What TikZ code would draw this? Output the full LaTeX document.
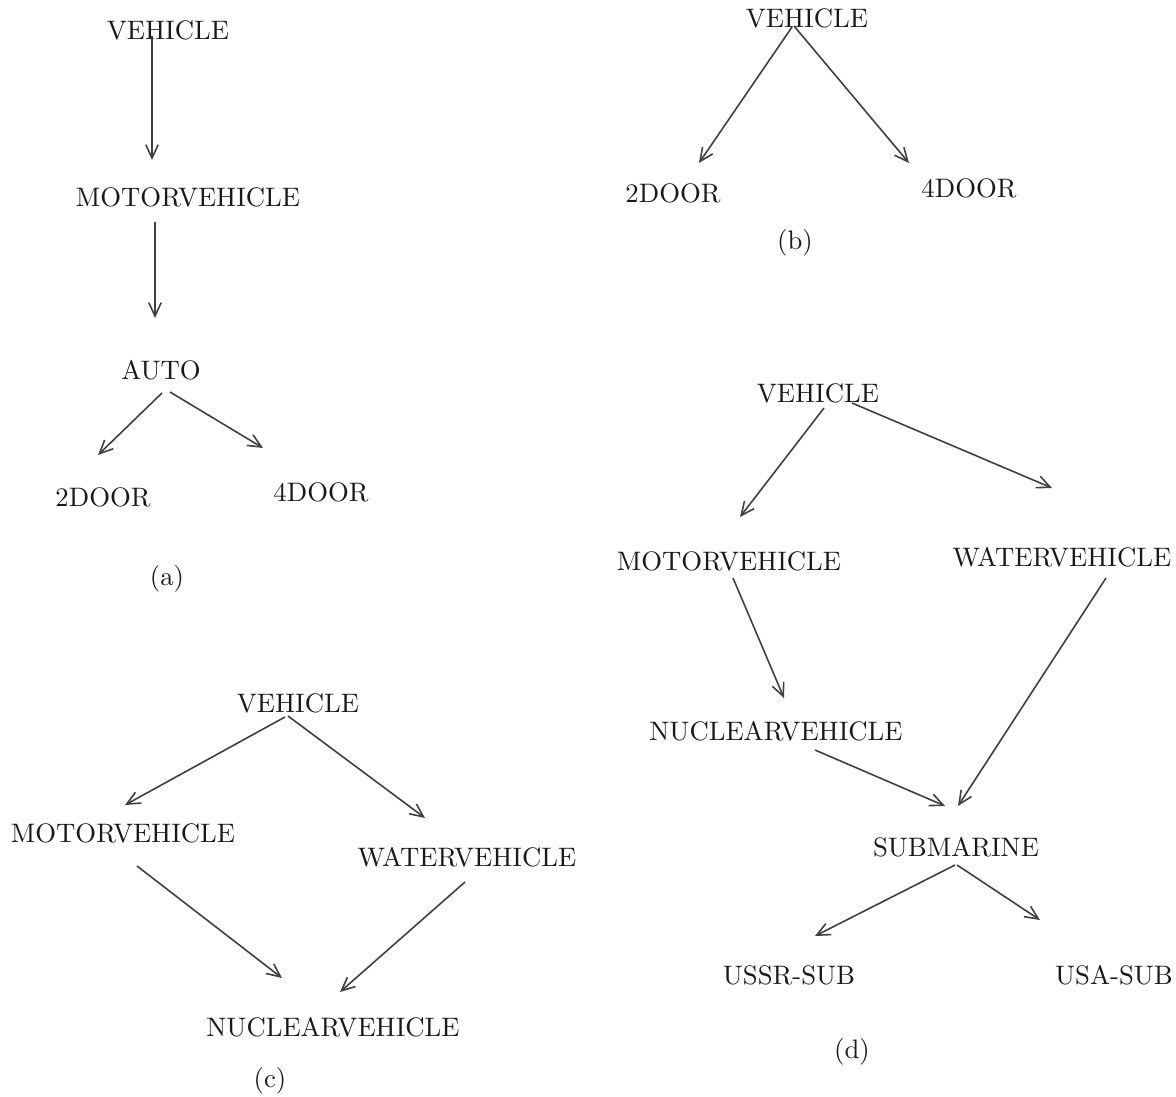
\documentclass[tikz,border=0pt]{standalone}
\usetikzlibrary{arrows.meta}

\tikzset{
	word/.style={inner sep=0pt, text=black!90},
	isa/.style={every edge/.style={draw=black!75, line width=0.6pt, -{Straight Barb[length=5pt,width=4.6pt]}}}
}

\begin{document}
\begin{tikzpicture}[x=0.01316cm, y=-0.01316cm]
	\useasboundingbox (0,0) rectangle (1176,1097);

	% (a)
	\node[word] (a0) at (168,30)  {VEHICLE};
	\node[word] (a1) at (188,197) {MOTORVEHICLE};
	\node[word] (a2) at (161,370) {AUTO};
	\node[word] (a3) at (103,497) {2DOOR};
	\node[word] (a4) at (321,492) {4DOOR};
	\node[word] (ca) at (167,579) {(a)};

	\path[isa] ([shift={(-16,6)}]a0.center) edge ([shift={(-36,-37)}]a1.center)
		([shift={(-33,25)}]a1.center) edge ([shift={(-6,-52)}]a2.center)
		([shift={(1,23)}]a2.center)   edge ([shift={(-5,-42)}]a3.center)
		([shift={(9,22)}]a2.center)   edge ([shift={(-58,-44)}]a4.center);

	% (b)
	\node[word] (b0) at (807,18)  {VEHICLE};
	\node[word] (b1) at (673,193) {2DOOR};
	\node[word] (b2) at (969,188) {4DOOR};
	\node[word] (cb) at (795,243) {(b)};

	\path[isa] ([shift={(-15,9)}]b0.center) edge ([shift={(26,-30)}]b1.center)
		([shift={(-13,8)}]b0.center) edge ([shift={(-60,-25)}]b2.center);

	% (c)
	\node[word] (c0) at (298,703)  {VEHICLE};
	\node[word] (c1) at (123,833)  {MOTORVEHICLE};
	\node[word] (c2) at (467,857)  {WATERVEHICLE};
	\node[word] (c3) at (333,1027) {NUCLEARVEHICLE};
	\node[word] (cc) at (270,1081) {(c)};

	\path[isa] ([shift={(-13,14)}]c0.center) edge ([shift={(2,-28)}]c1.center)
		([shift={(-10,13)}]c0.center) edge ([shift={(-42,-39)}]c2.center)
		([shift={(14,33)}]c1.center)  edge ([shift={(-51,-49)}]c3.center)
		([shift={(-2,25)}]c2.center)  edge ([shift={(7,-35)}]c3.center);

	% (d)
	\node[word] (d0) at (818,393)  {VEHICLE};
	\node[word] (d1) at (729,561)  {MOTORVEHICLE};
	\node[word] (d2) at (1062,557) {WATERVEHICLE};
	\node[word] (d3) at (776,731)  {NUCLEARVEHICLE};
	\node[word] (d4) at (956,847)  {SUBMARINE};
	\node[word] (d5) at (789,975)  {USSR-SUB};
	\node[word] (d6) at (1114,975) {USA-SUB};
	\node[word] (cd) at (852,1052) {(d)};

	\path[isa] ([shift={(6,15)}]d0.center)  edge ([shift={(11,-44)}]d1.center)
		([shift={(34,10)}]d0.center)  edge ([shift={(-10,-69)}]d2.center)
		([shift={(4,17)}]d1.center)   edge ([shift={(8,-33)}]d3.center)
		([shift={(44,21)}]d2.center)  edge ([shift={(2,-41)}]d4.center)
		([shift={(39,19)}]d3.center)  edge ([shift={(-11,-41)}]d4.center)
		([shift={(-1,18)}]d4.center)  edge ([shift={(26,-39)}]d5.center)
		([shift={(1,18)}]d4.center)   edge ([shift={(-74,-55)}]d6.center);
\end{tikzpicture}
\end{document}
